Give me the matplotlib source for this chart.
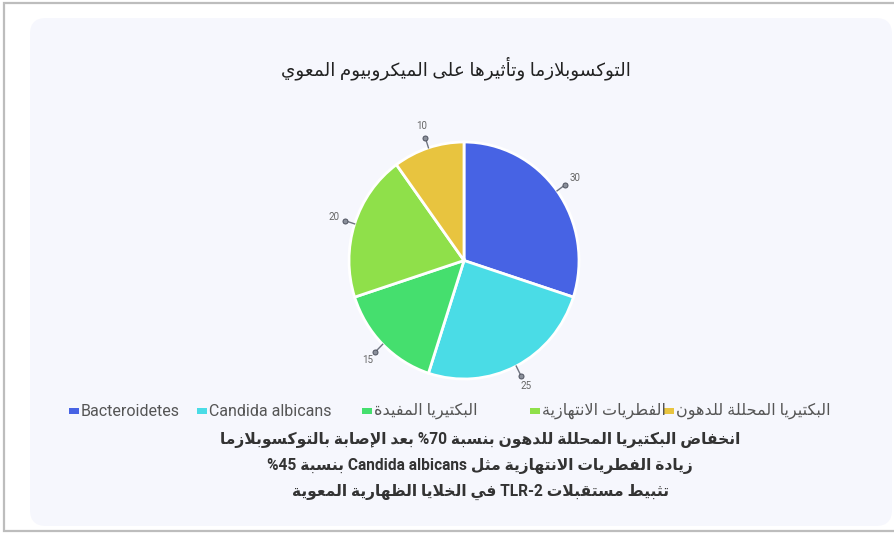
import re
import matplotlib
matplotlib.use('Agg')
import matplotlib.pyplot as plt
from matplotlib.patches import FancyBboxPatch, Rectangle
import numpy as np

# --- data -------------------------------------------------------------
title = 'التوكسوبلازما وتأثيرها على الميكروبيوم المعوي'
labels = ['Bacteroidetes', 'Candida albicans', 'البكتيريا المفيدة',
          'الفطريات الانتهازية', 'البكتيريا المحللة للدهون']
values = [30, 25, 15, 20, 10]
colors = ['#4763e4', '#4adce6', '#45df6e', '#8fe04a', '#e8c43f']
notes = ['انخفاض البكتيريا المحللة للدهون بنسبة 70% بعد الإصابة بالتوكسوبلازما',
         'زيادة الفطريات الانتهازية مثل Candida albicans بنسبة 45%',
         'تثبيط مستقبلات TLR-2 في الخلايا الظهارية المعوية']

# --- minimal arabic shaping + rtl ordering ------------------------------
AR_LETTERS = 'ءآأؤإئابةتثجحخدذرزسشصضطظعغفقكلمنهوىي'
AR_NFORMS = [1, 2, 2, 2, 2, 4, 2, 4, 2, 4, 4, 4, 4, 4, 2, 2, 2, 2,
             4, 4, 4, 4, 4, 4, 4, 4, 4, 4, 4, 4, 4, 4, 4, 2, 2, 4]
FORMS = {}
_code = 0xFE80
for _ch, _n in zip(AR_LETTERS, AR_NFORMS):
    FORMS[_ch] = [chr(_code + k) for k in range(_n)]
    _code += _n
LAM_ALEF = {'آ': 0xFEF5, 'أ': 0xFEF7, 'إ': 0xFEF9, 'ا': 0xFEFB}


def shape(text):
    out = []
    i = 0
    while i < len(text):
        ch = text[i]
        if ch not in FORMS:
            out.append(ch)
            i += 1
            continue
        prev = text[i - 1] if i > 0 else ''
        jp = len(FORMS.get(prev, [])) == 4
        if ch == 'ل' and i + 1 < len(text) and text[i + 1] in LAM_ALEF:
            out.append(chr(LAM_ALEF[text[i + 1]] + int(jp)))
            i += 2
            continue
        nxt = text[i + 1] if i + 1 < len(text) else ''
        f = FORMS[ch]
        jn = len(f) == 4 and len(FORMS.get(nxt, [])) > 1
        if jp and jn:
            g = f[3]
        elif jp:
            g = f[1] if len(f) > 1 else f[0]
        elif jn:
            g = f[2]
        else:
            g = f[0]
        out.append(g)
        i += 1
    return ''.join(out)


LTR_RUN = re.compile(r'([A-Za-z0-9](?:[A-Za-z0-9 .\-]*[A-Za-z0-9])?)')


def rtl(text):
    if not re.search('[\u0600-\u06ff]', text):
        return text
    parts = LTR_RUN.split(shape(text))
    vis = [p if k % 2 else p[::-1] for k, p in enumerate(parts)]
    return ''.join(reversed(vis))


FAM = ['Roboto', 'DejaVu Sans']
W, H = 894, 534

fig = plt.figure(figsize=(W / 100, H / 100), dpi=100)
fig.patch.set_facecolor('white')

# background axes in pixel coords
bg = fig.add_axes([0, 0, 1, 1])
bg.set_xlim(0, W)
bg.set_ylim(H, 0)
bg.axis('off')
bg.add_patch(Rectangle((4, 3), 892, 528, facecolor='white',
                       edgecolor='#bdbdbd', lw=1.6))
bg.add_patch(FancyBboxPatch((30, 18), 862, 508,
                            boxstyle='round,pad=0,rounding_size=16',
                            facecolor='#f6f7fd', edgecolor='none'))

bg.text(456, 68, rtl(title), ha='center', va='center', fontsize=13.2,
        family=FAM, color='#222222')

# pie
cx, cy, rx, ry, lim = 464, 260.5, 115, 118.5, 1.5
ax = fig.add_axes([(cx - rx * lim) / W, (H - cy - ry * lim) / H,
                   2 * rx * lim / W, 2 * ry * lim / H])
wedges, _ = ax.pie(values, colors=colors, startangle=90, counterclock=False,
                   radius=1.0, wedgeprops=dict(edgecolor='white', linewidth=2))
ax.set_xlim(-lim, lim)
ax.set_ylim(-lim, lim)
ax.set_aspect('auto')
ax.axis('off')
for w, v in zip(wedges, values):
    th = np.deg2rad((w.theta1 + w.theta2) / 2)
    c, s = np.cos(th), np.sin(th)
    ax.plot([c, 1.09 * c], [s, 1.09 * s], color='#6f7480', lw=1.0)
    ax.plot(1.09 * c, 1.09 * s, 'o', ms=3.6, mfc='#8a8f9a', mec='#4f5360', mew=0.7)
    ax.text(1.19 * c, 1.19 * s, str(v), ha='center', va='center',
            fontsize=7, family=FAM, color='#666666')

# legend row
leg_x = [69, 197, 362, 530, 664]
for x, lab, col in zip(leg_x, labels, colors):
    bg.add_patch(Rectangle((x, 408), 10, 6, facecolor=col, edgecolor='none'))
    bg.text(x + 12, 411, rtl(lab), ha='left', va='center', fontsize=11.5,
            family=FAM, color='#555555')

# notes
for k, line in enumerate(notes):
    bg.text(480, 440 + 26 * k, rtl(line), ha='center', va='center',
            fontsize=11.2, family=FAM, fontweight='bold', color='#333333')

fig.savefig('out.png', dpi=100)
